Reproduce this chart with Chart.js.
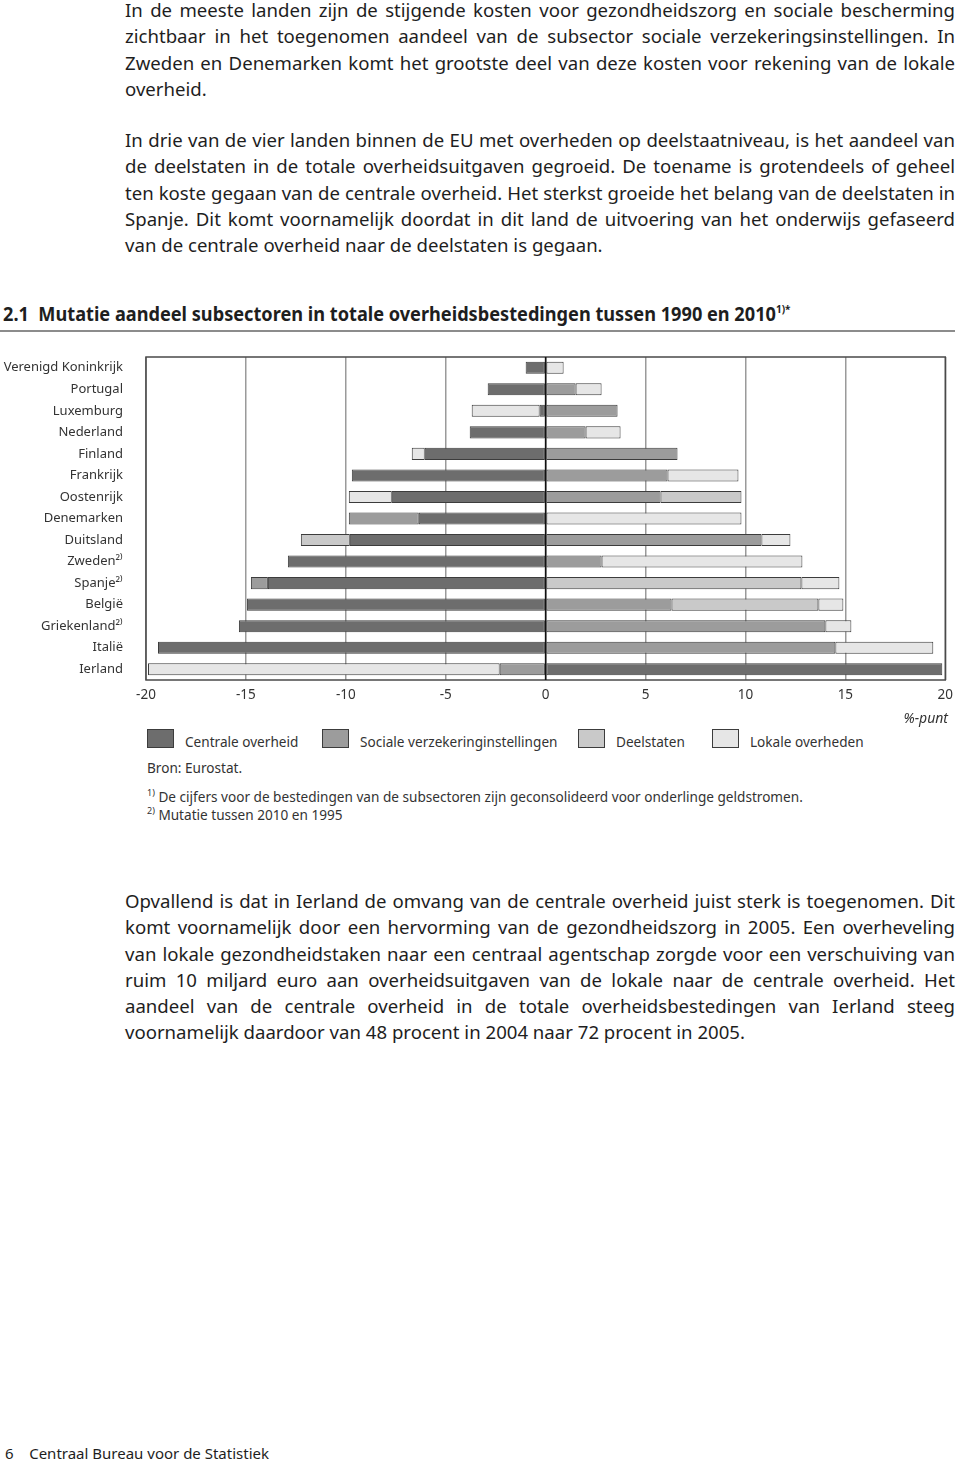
<!DOCTYPE html>
<html lang="nl">
<head>
    <meta charset="UTF-8">
    <title>Mutatie aandeel subsectoren</title>
    <script src="https://cdn.jsdelivr.net/npm/chart.js"></script>
    <style>
        body {
            margin: 0;
            width: 960px;
            height: 1462px;
            position: relative;
            background: #fff;
            color: #1e1e1e;
            font-family: "Noto Sans", sans-serif;
            overflow: hidden;
        }
        .para {
            position: absolute;
            left: 125px;
            width: 830px;
            font-size: 18.6px;
            line-height: 26.3px;
        }
        .para span {
            display: block;
            white-space: nowrap;
            text-align: justify;
            text-align-last: justify;
        }
        .para span.last {
            text-align-last: left;
        }
        #title {
            position: absolute;
            left: 3px;
            top: 300px;
            font-size: 20px;
            font-weight: bold;
            white-space: nowrap;
            transform: scaleX(0.908);
            transform-origin: left top;
        }
        #title sup { font-size: 11px; }
        #rule {
            position: absolute;
            left: 0;
            top: 330px;
            width: 955px;
            height: 2px;
            background: #8c8c8c;
        }
        #chartBox {
            position: absolute;
            left: 0;
            top: 350px;
            width: 960px;
            height: 360px;
        }
        #unit {
            position: absolute;
            right: 12px;
            top: 708px;
            font-size: 14px;
            font-style: italic;
            color: #333;
        }
        #legend .item {
            position: absolute;
            top: 729px;
            height: 20px;
        }
        #legend .box {
            position: absolute;
            left: 0;
            top: 0;
            width: 25px;
            height: 17px;
            border: 1px solid #3c3c3c;
        }
        #legend .lbl {
            position: absolute;
            left: 38px;
            top: 3px;
            font-size: 13.6px;
            white-space: nowrap;
            color: #333;
        }
        .note {
            position: absolute;
            left: 147px;
            font-size: 13.6px;
            white-space: nowrap;
            color: #333;
        }
        .note sup { font-size: 9px; }
        #footer {
            position: absolute;
            left: 5px;
            top: 1443px;
            font-size: 15px;
            white-space: nowrap;
        }
    </style>
</head>
<body>

    <div class="para" style="top: -3px;">
        <span>In de meeste landen zijn de stijgende kosten voor gezondheidszorg en sociale bescherming</span>
        <span>zichtbaar in het toegenomen aandeel van de subsector sociale verzekeringsinstellingen. In</span>
        <span>Zweden en Denemarken komt het grootste deel van deze kosten voor rekening van de lokale</span>
        <span class="last">overheid.</span>
    </div>

    <div class="para" style="top: 127px;">
        <span>In drie van de vier landen binnen de EU met overheden op deelstaatniveau, is het aandeel van</span>
        <span>de deelstaten in de totale overheidsuitgaven gegroeid. De toename is grotendeels of geheel</span>
        <span>ten koste gegaan van de centrale overheid. Het sterkst groeide het belang van de deelstaten in</span>
        <span>Spanje. Dit komt voornamelijk doordat in dit land de uitvoering van het onderwijs gefaseerd</span>
        <span class="last">van de centrale overheid naar de deelstaten is gegaan.</span>
    </div>

    <div id="title">2.1&nbsp;&nbsp;Mutatie aandeel subsectoren in totale overheidsbestedingen tussen 1990 en 2010<sup>1)*</sup></div>
    <div id="rule"></div>

    <div id="chartBox"><canvas id="chart"></canvas></div>

    <div id="unit">%-punt</div>
    <div id="legend"></div>

    <div class="note" style="top: 758px;">Bron: Eurostat.</div>
    <div class="note" style="top: 786px;"><sup>1)</sup> De cijfers voor de bestedingen van de subsectoren zijn geconsolideerd voor onderlinge geldstromen.</div>
    <div class="note" style="top: 804px;"><sup>2)</sup> Mutatie tussen 2010 en 1995</div>

    <div class="para" style="top: 888px;">
        <span>Opvallend is dat in Ierland de omvang van de centrale overheid juist sterk is toegenomen. Dit</span>
        <span>komt voornamelijk door een hervorming van de gezondheidszorg in 2005. Een overheveling</span>
        <span>van lokale gezondheidstaken naar een centraal agentschap zorgde voor een verschuiving van</span>
        <span>ruim 10 miljard euro aan overheidsuitgaven van de lokale naar de centrale overheid. Het</span>
        <span>aandeel van de centrale overheid in de totale overheidsbestedingen van Ierland steeg</span>
        <span class="last">voornamelijk daardoor van 48 procent in 2004 naar 72 procent in 2005.</span>
    </div>

    <div id="footer">6&nbsp;&nbsp;&nbsp;&nbsp;Centraal Bureau voor de Statistiek</div>

    <script>
        /***************************
                    DATA
        ***************************/

        // countries, top to bottom
        const countries = [
            'Verenigd Koninkrijk', 'Portugal', 'Luxemburg', 'Nederland', 'Finland',
            'Frankrijk', 'Oostenrijk', 'Denemarken', 'Duitsland', 'Zweden²⁾',
            'Spanje²⁾', 'België', 'Griekenland²⁾', 'Italië', 'Ierland'
        ];

        // change of share in %-points, one array per subsector
        const centraleOverheid = [-1.0, -2.9, -0.3, -3.8, -6.05, -9.7, -7.7, -6.35, -9.8, -12.9, -13.9, -14.95, -15.35, -19.4, 19.85];
        const socialeVerzekering = [null, 1.5, 3.6, 2.0, 6.6, 6.1, 5.75, -3.5, 10.8, 2.8, -0.85, 6.3, 14.0, 14.5, -2.3];
        const deelstaten = [null, null, null, null, null, null, 4.05, null, -2.45, null, 12.8, 7.35, null, null, null];
        const lokaleOverheden = [0.9, 1.3, -3.4, 1.75, -0.65, 3.55, -2.15, 9.8, 1.45, 10.05, 1.9, 1.25, 1.3, 4.9, -17.6];

        const seriesNames = ['Centrale overheid', 'Sociale verzekeringinstellingen', 'Deelstaten', 'Lokale overheden'];
        const seriesData = [centraleOverheid, socialeVerzekering, deelstaten, lokaleOverheden];
        const seriesColors = ['#6d6d6d', '#9c9c9c', '#c9c9c9', '#e6e6e6'];

        // axis ticks
        const xMin = -20;
        const xMax = 20;
        const xStep = 5;

        const labelFont = { family: '"Noto Sans", sans-serif', size: 13 };


        /***************************
                  LEGEND
        ***************************/

        // legend placed under the chart, x of each item
        const legendX = [147, 322, 578, 712];
        const legend = document.getElementById('legend');
        seriesNames.forEach((name, i) => {
            const item = document.createElement('div');
            item.className = 'item';
            item.style.left = legendX[i] + 'px';
            item.innerHTML = '<div class="box" style="background:' + seriesColors[i] + '"></div><div class="lbl">' + name + '</div>';
            legend.appendChild(item);
        });


        /***************************
                  CHART
        ***************************/

        // frame round the plot and the zero line on top of the bars
        const framePlugin = {
            id: 'frame',
            afterDatasetsDraw(chart) {
                const a = chart.chartArea;
                const ctx = chart.ctx;
                const x0 = chart.scales.x.getPixelForValue(0);
                ctx.save();
                ctx.strokeStyle = '#4a4a4a';
                ctx.lineWidth = 1.5;
                ctx.strokeRect(a.left, a.top, a.right - a.left, a.bottom - a.top);
                ctx.strokeStyle = '#111';
                ctx.lineWidth = 1.6;
                ctx.beginPath();
                ctx.moveTo(x0, a.top);
                ctx.lineTo(x0, a.bottom);
                ctx.stroke();
                ctx.restore();
            }
        };

        const datasets = seriesNames.map((name, i) => ({
            label: name,
            data: seriesData[i],
            backgroundColor: seriesColors[i],
            borderColor: '#3c3c3c',
            borderWidth: 1,
            borderSkipped: false,
            barPercentage: 0.56,
            categoryPercentage: 1
        }));

        new Chart(document.getElementById('chart'), {
            type: 'bar',
            data: {
                labels: countries,
                datasets: datasets
            },
            options: {
                indexAxis: 'y',
                responsive: true,
                maintainAspectRatio: false,
                animation: false,
                layout: {
                    padding: { top: 7, right: 14, bottom: 0, left: 0 }
                },
                plugins: {
                    legend: { display: false },
                    tooltip: { enabled: false }
                },
                scales: {
                    x: {
                        stacked: true,
                        min: xMin,
                        max: xMax,
                        ticks: {
                            stepSize: xStep,
                            font: { family: labelFont.family, size: 13.5 },
                            color: '#333',
                            padding: 7,
                            maxRotation: 0
                        },
                        grid: {
                            color: '#9a9a9a',
                            lineWidth: 1.5,
                            drawTicks: false
                        },
                        border: { display: false },
                        afterFit: (scale) => { scale.height = 30; }
                    },
                    y: {
                        stacked: true,
                        ticks: {
                            font: labelFont,
                            color: '#333',
                            padding: 23,
                            autoSkip: false
                        },
                        grid: { display: false, drawTicks: false },
                        border: { display: false },
                        afterFit: (scale) => {
                            scale.width = 146;
                            // the label padding should not push the plot down
                            scale.paddingTop = 0;
                            scale.paddingBottom = 0;
                        }
                    }
                }
            },
            plugins: [framePlugin]
        });
    </script>
</body>
</html>
